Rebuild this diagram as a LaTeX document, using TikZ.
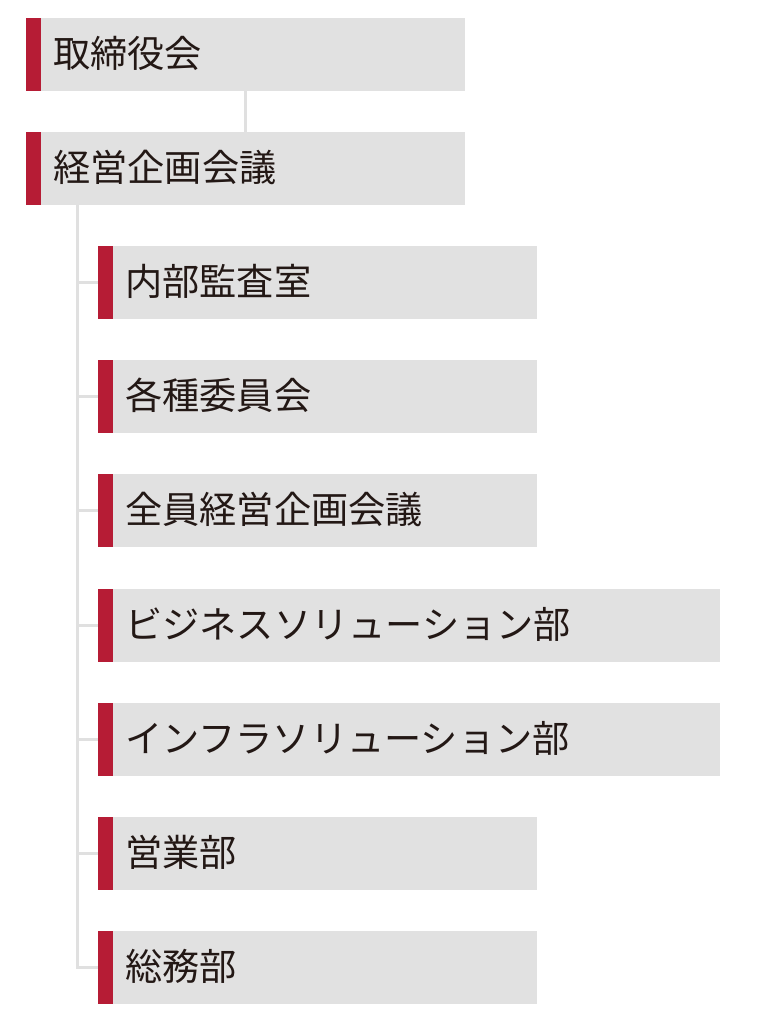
\documentclass[tikz,border=0pt]{standalone}
\usepackage{fontspec}
\newfontfamily\jp{Noto Sans CJK JP}
\definecolor{boxgray}{RGB}{225,225,225}
\definecolor{barred}{RGB}{182,28,53}
\definecolor{linegray}{RGB}{224,224,224}
\definecolor{inkdark}{RGB}{35,24,21}
\begin{document}
\begin{tikzpicture}[x=1pt,y=-1pt,
  orgbox/.style={rectangle, fill=boxgray, anchor=north west, minimum height=73pt,
    inner ysep=0pt, inner xsep=27pt, align=left,
    font=\jp\fontsize{37.2}{40}\selectfont, text=inkdark,
    text height=29.5pt, text depth=3pt,
    path picture={\fill[barred] (path picture bounding box.south west) rectangle ([xshift=15pt]path picture bounding box.north west);}},
  narrow/.style={orgbox, minimum width=439pt, text width=385pt},
  wide/.style={orgbox, minimum width=622pt, text width=568pt},
  conn/.style={draw=linegray, line width=3pt}]
\useasboundingbox (0,0) rectangle (756,1020);
\node[narrow] (board) at (26,18) {取締役会};
\node[narrow] (mgmt) at (26,132) {経営企画会議};
\node[narrow] (audit) at (98,246) {内部監査室};
\node[narrow] (comm) at (98,360) {各種委員会};
\node[narrow] (allmgmt) at (98,474) {全員経営企画会議};
\node[wide] (biz) at (98,589) {ビジネスソリューション部};
\node[wide] (infra) at (98,703) {インフラソリューション部};
\node[narrow] (sales) at (98,817) {営業部};
\node[narrow] (general) at (98,931) {総務部};
\coordinate (trunk) at (77,205);
\draw[conn] (board.south) -- (mgmt.north);
\draw[conn] (trunk) |- (general.west);
\foreach \n in {audit,comm,allmgmt,biz,infra,sales}
  \draw[conn] (\n.west -| trunk) -- (\n.west);
\end{tikzpicture}
\end{document}
